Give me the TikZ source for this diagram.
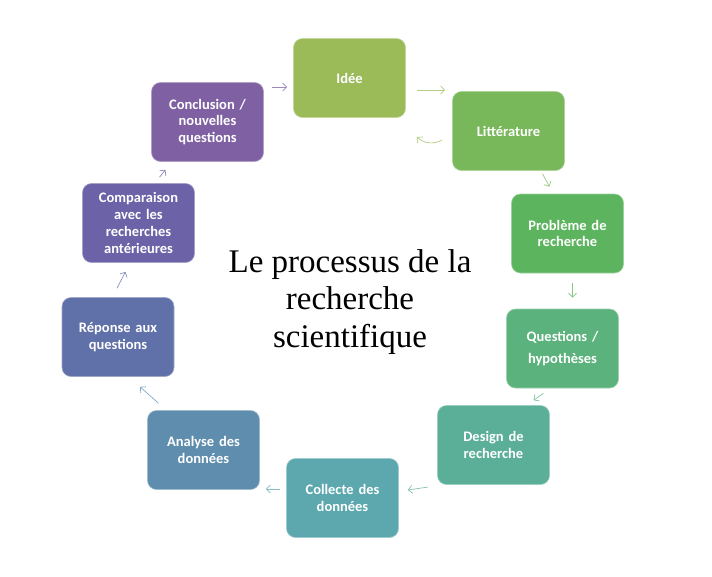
\documentclass[tikz,border=0pt]{standalone}
\usepackage{fontspec}
\setmainfont{Liberation Serif}
\newfontfamily\boxfont{Carlito}
\usetikzlibrary{arrows.meta}
\definecolor{cidee}{HTML}{9BBB59}
\definecolor{clitt}{HTML}{78B85A}
\definecolor{cprob}{HTML}{5CB45E}
\definecolor{cquest}{HTML}{5BB27C}
\definecolor{cdesign}{HTML}{5BAF98}
\definecolor{ccoll}{HTML}{5CA8AE}
\definecolor{canal}{HTML}{5F8DAE}
\definecolor{crep}{HTML}{6070A8}
\definecolor{ccomp}{HTML}{6B62A8}
\definecolor{cconcl}{HTML}{7F61A3}
\tikzset{
  etape/.style={fill=#1, draw=#1!60!white, line width=0.6pt, rounded corners=9pt,
    minimum width=112pt, minimum height=79pt, text width=104pt, align=center,
    text=white, font=\boxfont\bfseries\fontsize{14.5}{16.7}\selectfont},
  fleche/.style={draw=#1!75!white, line width=0.7pt, -{Straight Barb[length=4pt,width=8pt]}}
}
\begin{document}
\begin{tikzpicture}[x=1pt,y=-1pt]
                    \useasboundingbox[fill=white] (0,0) rectangle (712,576);
                    \node[etape=cidee] (idee) at (349.5,78) {Idée};
                    \node[etape=clitt] (litt) at (508.5,131) {Littérature};
                    \node[etape=cprob] (prob) at (567.5,233.5) {Problème de recherche};
                    \node[etape=cquest, font=\boxfont\bfseries\fontsize{14.5}{22}\selectfont] (quest) at (562.5,348.5) {Questions /\\hypothèses};
                    \node[etape=cdesign] (design) at (493.5,445) {Design de\\recherche};
                    \node[etape=ccoll] (coll) at (342.5,498) {Collecte des\\données};
                    \node[etape=canal] (anal) at (203.5,450) {Analyse des\\données};
                    \node[etape=crep] (rep) at (118,337) {Réponse aux\\questions};
                    \node[etape=ccomp] (comp) at (138.5,223) {Comparaison\\avec les\\recherches\\antérieures};
                    \node[etape=cconcl] (concl) at (207.5,122) {Conclusion /\\nouvelles\\questions};
                    \node[align=center, font=\fontsize{33}{37.5}\selectfont] (titre) at (350,302) {Le processus de la\\recherche\\scientifique};
                    % fleches du cycle
                    \draw[fleche=cconcl] ([shift={(8,-35)}]concl.east) -- ([shift={(-6,9)}]idee.west);
                    \draw[fleche=cidee] ([shift={(11,12)}]idee.east) -- ([shift={(-7,-41)}]litt.west);
                    \draw[fleche=cidee] ([shift={(-10,9)}]litt.west) to[bend left=35] ([shift={(11,59)}]idee.east);
                    \draw[fleche=clitt] ([shift={(34,3)}]litt.south) -- ([shift={(-18,-7)}]prob.north);
                    \draw[fleche=cprob] ([shift={(5,10)}]prob.south) -- ([shift={(10,-11)}]quest.north);
                    \draw[fleche=cquest] ([shift={(-19,5)}]quest.south) -- ([shift={(40,-5)}]design.north);
                    \draw[fleche=cdesign] ([shift={(-9,42)}]design.west) -- ([shift={(9,-8)}]coll.east);
                    \draw[fleche=ccoll] ([shift={(-6,-9)}]coll.west) -- ([shift={(6,39)}]anal.east);
                    \draw[fleche=canal] ([shift={(-45,-7)}]anal.north) -- ([shift={(22,10)}]rep.south);
                    \draw[fleche=crep] ([shift={(-1,-9)}]rep.north) -- ([shift={(-13,9)}]comp.south);
                    \draw[fleche=ccomp] ([shift={(21,-6)}]comp.north) -- ([shift={(-42,8)}]concl.south);
                \end{tikzpicture}
\end{document}
